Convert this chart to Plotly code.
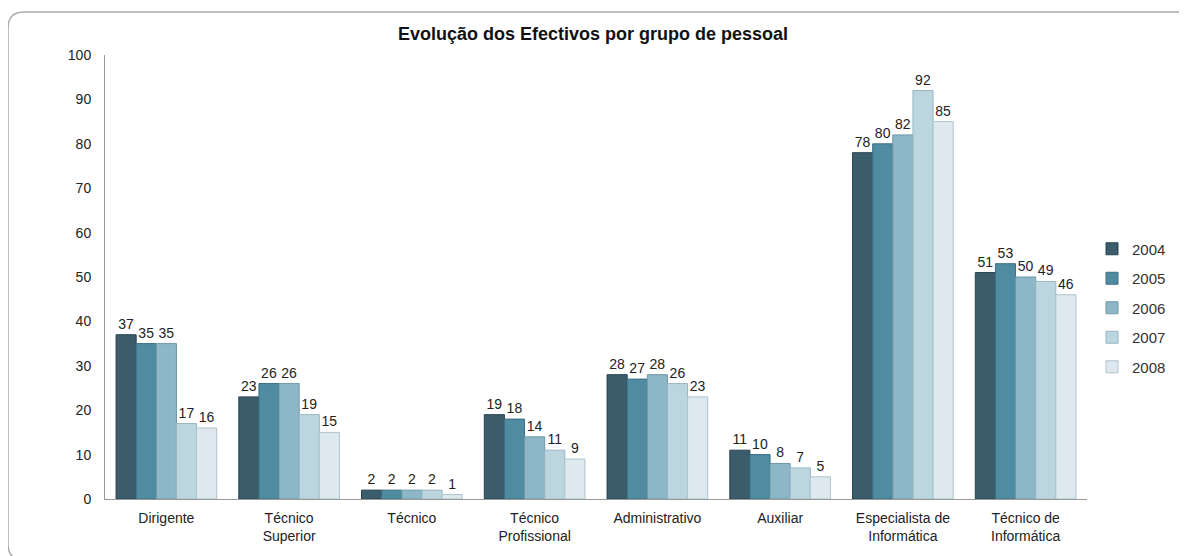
import plotly.graph_objects as go

categories = ["Dirigente", "Técnico<br>Superior", "Técnico", "Técnico<br>Profissional",
              "Administrativo", "Auxiliar", "Especialista de<br>Informática", "Técnico de<br>Informática"]
years = ["2004", "2005", "2006", "2007", "2008"]
v2004 = [37, 23, 2, 19, 28, 11, 78, 51]
v2005 = [35, 26, 2, 18, 27, 10, 80, 53]
v2006 = [35, 26, 2, 14, 28, 8, 82, 50]
v2007 = [17, 19, 2, 11, 26, 7, 92, 49]
v2008 = [16, 15, 1, 9, 23, 5, 85, 46]
series = [v2004, v2005, v2006, v2007, v2008]
colors = ["#3b5d6b", "#4f8ca1", "#8db6c6", "#bcd6df", "#dde9ee"]
edge = ["#2a4350", "#3c6f82", "#6f98a8", "#98b6c2", "#aec4cc"]

fig = go.Figure()
for i, (y, vals) in enumerate(zip(years, series)):
    fig.add_trace(go.Bar(
        x=categories, y=vals, name=y, legendgroup=y,
        marker=dict(color=colors[i], line=dict(color=edge[i], width=1)),
        text=[str(v) for v in vals], textposition="outside",
        textfont=dict(family="Liberation Sans, Arial", size=14, color="#222"),
        cliponaxis=False,
    ))

# page offset from body margin
OFF = 8
W, H = 1187 - OFF, 556 - OFF
# plot area in page pixels
L, R, T, B = 105, 1087, 55, 499
def px(x): return (x - L) / (R - L)
def py(y): return (B - y) / (B - T)

x0, y0, x1, y1, rr = 8, 12, 1192, 560, 16
path = (f"M {px(x0)},{py(y1-rr)} L {px(x0)},{py(y0+rr)} "
        f"Q {px(x0)},{py(y0)} {px(x0+rr)},{py(y0)} L {px(x1-rr)},{py(y0)} "
        f"Q {px(x1)},{py(y0)} {px(x1)},{py(y0+rr)} L {px(x1)},{py(y1-rr)} "
        f"Q {px(x1)},{py(y1)} {px(x1-rr)},{py(y1)} L {px(x0+rr)},{py(y1)} "
        f"Q {px(x0)},{py(y1)} {px(x0)},{py(y1-rr)} Z")

fig.update_layout(
    width=W, height=H,
    margin=dict(l=L - OFF, r=W - (R - OFF), t=T - OFF, b=H - (B - OFF), autoexpand=False),
    paper_bgcolor="white", plot_bgcolor="white",
    font=dict(family="Liberation Sans, Arial", size=14, color="#222"),
    title=dict(text="<b>Evolução dos Efectivos por grupo de pessoal</b>",
               x=(593 - OFF) / W, xanchor="center", y=1 - (34 - OFF) / H, yanchor="middle",
               font=dict(size=18, color="#111")),
    barmode="group", bargap=0.18, bargroupgap=0.0,
    xaxis=dict(showline=True, linecolor="#999", linewidth=1, ticks="",
               tickfont=dict(size=14), showgrid=False, ticklabelstandoff=6),
    yaxis=dict(range=[0, 100], dtick=10, showline=True, linecolor="#999", linewidth=1,
               showgrid=False, ticks="", tickfont=dict(size=14), zeroline=False,
               ticklabelstandoff=10),
    legend=dict(x=px(1092), xanchor="left", y=py(308), yanchor="middle",
                font=dict(size=15, color="#333"), tracegroupgap=7,
                itemwidth=30, bgcolor="rgba(0,0,0,0)"),
    shapes=[dict(type="path", path=path, xref="paper", yref="paper",
                 line=dict(color="#aaa", width=1.5), layer="below")],
)
fig.write_html("out.html")
